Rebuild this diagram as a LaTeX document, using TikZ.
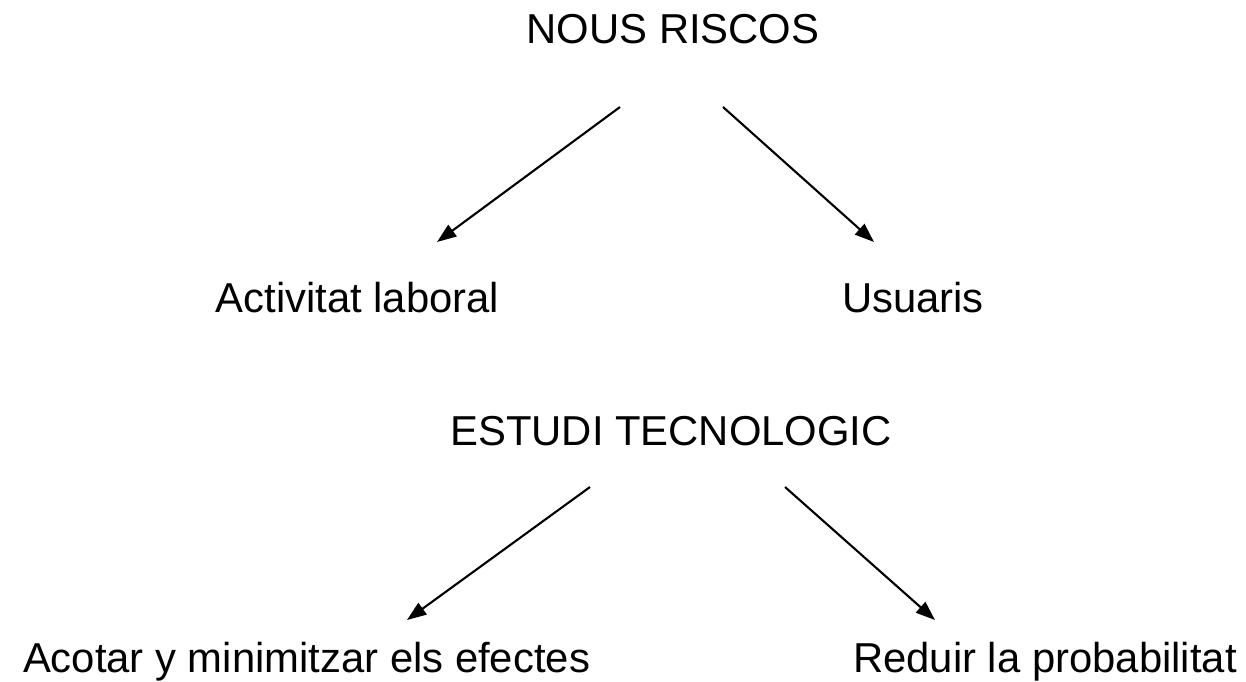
\documentclass[tikz,border=0pt]{standalone}
\usepackage{fontspec}
\setmainfont{Liberation Sans}
\usetikzlibrary{arrows.meta}
\begin{document}
\begin{tikzpicture}[x=0.02cm,y=-0.02cm,
  lbl/.style={inner sep=0pt,anchor=base,font=\fontsize{23.8}{28}\selectfont},
  arr/.style={line width=1.2pt,-{Triangle[length=11pt,width=8pt]}}]
\useasboundingbox (0,0) rectangle (1246,681);
\node[lbl] (nr) at (673,43) {NOUS RISCOS};
\node[lbl] (al) at (357.5,312) {Activitat laboral};
\node[lbl] (us) at (913,312) {Usuaris};
\node[lbl] (et) at (671,445) {ESTUDI TECNOLOGIC};
\node[lbl] (ac) at (306.5,672) {Acotar y minimitzar els efectes};
\node[lbl] (rp) at (1045,672) {Reduir la probabilitat};
\coordinate (nrL) at (620,107);
\coordinate (nrR) at (723,107);
\coordinate (alT) at (437,242);
\coordinate (usT) at (874,242);
\coordinate (etL) at (590,487);
\coordinate (etR) at (785,487);
\coordinate (acT) at (407,620);
\coordinate (rpT) at (935,620);
\draw[arr] (nrL) -- (alT);
\draw[arr] (nrR) -- (usT);
\draw[arr] (etL) -- (acT);
\draw[arr] (etR) -- (rpT);
\end{tikzpicture}
\end{document}
